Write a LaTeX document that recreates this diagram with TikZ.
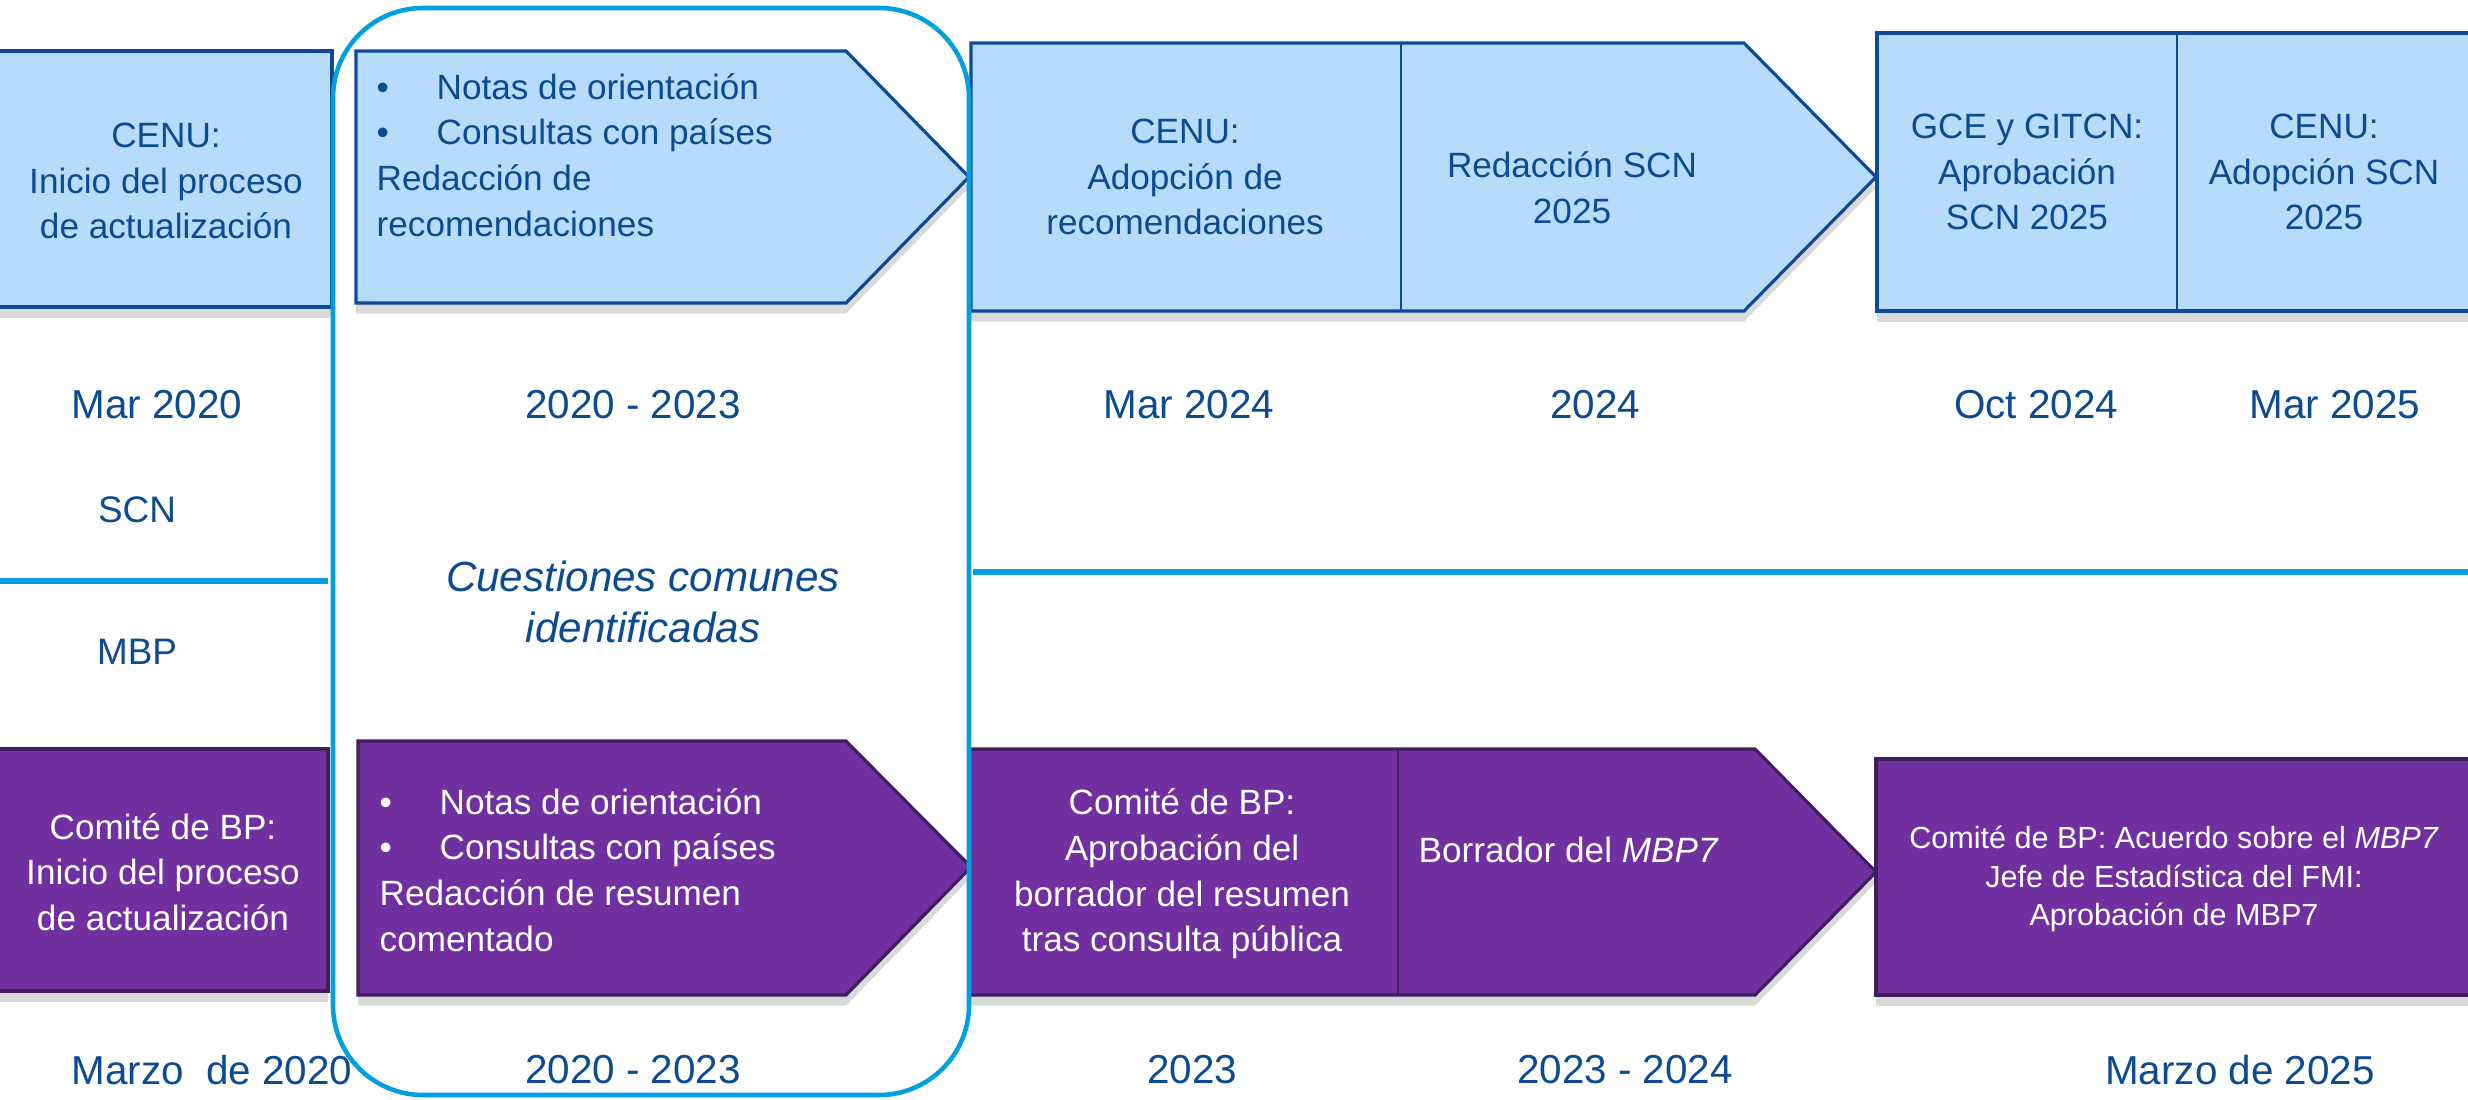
\documentclass[tikz,border=0pt]{standalone}
\usepackage{fontspec}
\setmainfont{Liberation Sans}
\usetikzlibrary{shadows,positioning}

\definecolor{scnFill}{RGB}{183,219,251}
\definecolor{scnLine}{RGB}{14,72,150}
\definecolor{scnInk}{RGB}{12,74,145}
\definecolor{bpFill}{RGB}{112,48,160}
\definecolor{bpLine}{RGB}{62,30,92}
\definecolor{ringBlue}{RGB}{0,160,222}

\newcommand{\bulitem}{\makebox[0.6cm][l]{\textbullet}}

\begin{document}
\begin{tikzpicture}[x=1cm, y=-1cm]

        % Setup the styles for the boxes and texts
        \tikzset{scn shape/.style={draw=scnLine, fill=scnFill, line width=0.9pt,
                                   drop shadow={shadow xshift=0pt, shadow yshift=-3pt, opacity=0.3}},
                 bp shape/.style={draw=bpLine, fill=bpFill, line width=0.9pt,
                                  drop shadow={shadow xshift=0pt, shadow yshift=-3pt, opacity=0.3}},
                 scn text/.style={text=scnInk, align=center, inner sep=0pt,
                                  font=\fontsize{10}{13}\selectfont},
                 bp text/.style={scn text, text=white},
                 date text/.style={text=scnInk, inner sep=0pt,
                                   font=\fontsize{11.5}{14}\selectfont},
                 ring/.style={draw=ringBlue, line width=1.3pt, rounded corners=0.9cm},
                 lane line/.style={draw=ringBlue, line width=1.7pt,
                                   drop shadow={shadow xshift=0pt, shadow yshift=-3pt, opacity=0.2}}}

        \clip (0,0) rectangle (24.68,10.99);

        % Draw the SCN row
        \draw[scn shape] (-0.1,0.51) rectangle (3.32,3.07);
        \draw[scn shape] (3.56,0.51) -- (8.46,0.51) -- (9.69,1.77) -- (8.46,3.03) -- (3.56,3.03) -- cycle;
        \draw[scn shape] (9.71,0.43) -- (17.44,0.43) -- (18.76,1.77) -- (17.44,3.11) -- (9.71,3.11) -- cycle;
        \draw[scnLine, line width=0.6pt] (14.01,0.43) -- (14.01,3.11);
        \draw[scn shape] (18.77,0.33) rectangle (24.8,3.11);
        \draw[scnLine, line width=0.6pt] (21.77,0.33) -- (21.77,3.11);

        % Draw the MBP row
        \draw[bp shape] (-0.1,7.49) rectangle (3.28,9.91);
        \draw[bp shape] (3.58,7.41) -- (8.46,7.41) -- (9.71,8.67) -- (8.46,9.95) -- (3.58,9.95) -- cycle;
        \draw[bp shape] (9.69,7.49) -- (17.55,7.49) -- (18.76,8.72) -- (17.55,9.95) -- (9.69,9.95) -- cycle;
        \draw[bpLine, line width=0.6pt] (13.98,7.49) -- (13.98,9.95);
        \draw[bp shape] (18.76,7.59) rectangle (24.8,9.95);

        % Lanes and the common frame
        \draw[lane line] (0,5.81) -- (3.28,5.81);
        \draw[lane line] (9.73,5.72) -- (24.8,5.72);
        \draw[ring] (3.33,0.08) rectangle (9.69,10.95);

        % SCN texts
        \node[scn text] at (1.66,1.81) (cenuStart) {CENU:\\Inicio del proceso\\de actualización};
        \node[scn text, anchor=west, align=left] at (3.76,1.55) (scnPrep)
            {\bulitem Notas de orientación\\\bulitem Consultas con países\\Redacción de\\recomendaciones};
        \node[scn text] at (11.85,1.77) (cenuAdopt) {CENU:\\Adopción de\\recomendaciones};
        \node[scn text] at (15.72,1.88) (scnDraft) {Redacción SCN\\2025};
        \node[scn text] at (20.27,1.72) (gceOk) {GCE y GITCN:\\Aprobación\\SCN 2025};
        \node[scn text] at (23.24,1.72) (cenuFinal) {CENU:\\Adopción SCN\\2025};

        \node[date text] at (1.57,4.05) (dMarA) {Mar 2020};
        \node[date text] at (6.33,4.05) (dSpanA) {2020 - 2023};
        \node[date text] at (11.89,4.05) (dMarB) {Mar 2024};
        \node[date text] at (15.95,4.05) (dYear) {2024};
        \node[date text] at (20.36,4.05) (dOct) {Oct 2024};
        \node[date text] at (23.35,4.05) (dMarC) {Mar 2025};

        \node[date text, font=\fontsize{10.5}{13}\selectfont] at (1.37,5.10) (laneScn) {SCN};
        \node[date text, font=\fontsize{10.5}{13}\selectfont] at (1.37,6.52) (laneBp) {MBP};
        \node[date text, align=center, font=\fontsize{12}{14.5}\selectfont\itshape] at (6.43,6.02) (common)
            {Cuestiones comunes\\identificadas};

        % MBP texts
        \node[bp text] at (1.63,8.72) (bpStart) {Comité de BP:\\Inicio del proceso\\de actualización};
        \node[bp text, anchor=west, align=left] at (3.79,8.70) (bpPrep)
            {\bulitem Notas de orientación\\\bulitem Consultas con países\\Redacción de resumen\\comentado};
        \node[bp text] at (11.82,8.74) (bpApprove)
            {Comité de BP:\\Aprobación del\\borrador del resumen\\tras consulta pública};
        \node[bp text, anchor=west] at (14.18,8.50) (bpDraft) {Borrador del \textit{MBP7}};
        \node[bp text, font=\fontsize{8.7}{10.9}\selectfont] at (21.74,8.79) (bpFinal)
            {Comité de BP: Acuerdo sobre el \textit{MBP7}\\Jefe de Estadística del FMI:\\Aprobación de MBP7};

        \node[date text] at (2.12,10.70) (dMarzoA) {Marzo\ \ de 2020};
        \node[date text] at (6.33,10.70) (dSpanB) {2020 - 2023};
        \node[date text] at (11.92,10.70) (dYearB) {2023};
        \node[date text] at (16.25,10.70) (dSpanC) {2023 - 2024};
        \node[date text] at (22.40,10.70) (dMarzoB) {Marzo de 2025};
\end{tikzpicture}
\end{document}
